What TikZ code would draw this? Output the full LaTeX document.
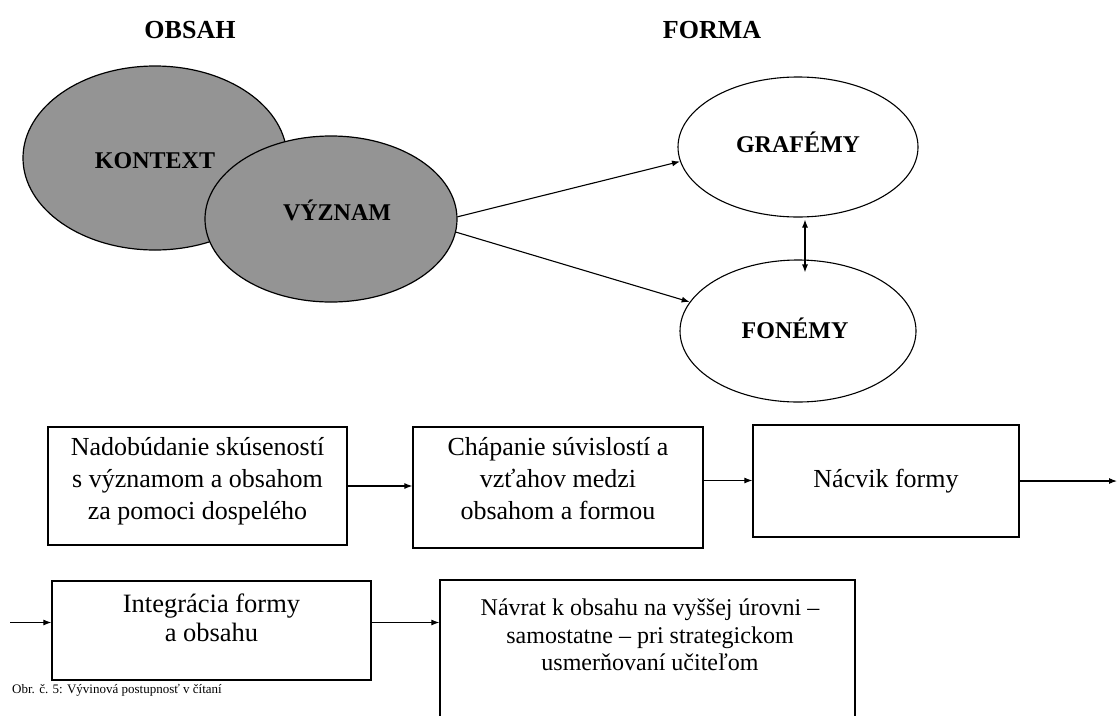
\documentclass[tikz,border=0pt]{standalone}
\usepackage{fontspec}
\setmainfont{Liberation Serif}
\usetikzlibrary{shapes.geometric,arrows.meta}
\tikzset{
  title/.style={font=\fontsize{26}{30}\selectfont\bfseries, inner sep=0pt},
  ovlabel/.style={font=\fontsize{24}{28}\selectfont\bfseries, inner sep=0pt},
  shaded/.style={ellipse, draw=black, line width=1.2pt, fill=black!42, inner sep=0pt},
  plain/.style={ellipse, draw=black, line width=1.1pt, fill=white, inner sep=0pt},
  stepbox/.style={rectangle, draw=black, line width=1.3pt, inner sep=0pt},
  boxtext/.style={align=center, font=\fontsize{26}{32}\selectfont, inner sep=0pt},
  boxtextb/.style={align=center, font=\fontsize{26.5}{29}\selectfont, inner sep=0pt},
  boxtextc/.style={align=center, font=\fontsize{24}{27.5}\selectfont, inner sep=0pt},
  arr/.style={line width=1.1pt, -{Latex[length=8pt,width=6pt]}},
  darr/.style={line width=1.1pt, {Latex[length=8pt,width=6pt]}-{Latex[length=8pt,width=6pt]}},
  caption/.style={font=\fontsize{13}{15}\selectfont, inner sep=0pt, anchor=west}
}
\begin{document}
\begin{tikzpicture}[x=1pt,y=-1pt]
\useasboundingbox (0,0) rectangle (1118,715);

% titles
\node[title] (obsah) at (190,30) {OBSAH};
\node[title] (forma) at (712,30) {FORMA};

% shaded ellipses
\node[shaded, minimum width=264pt, minimum height=184pt] (kontext) at (155,158) {};
\node[ovlabel] (kontextlbl) at (155,161) {KONTEXT};
\node[shaded, minimum width=252pt, minimum height=166pt] (vyznam) at (331,219) {};
\node[ovlabel] (vyznamlbl) at (337,210) {VÝZNAM};

% white ellipses
\node[plain, minimum width=240pt, minimum height=140pt] (grafemy) at (798,147) {};
\node[ovlabel] (grafemylbl) at (798,142) {GRAFÉMY};
\node[plain, minimum width=236pt, minimum height=142pt] (fonemy) at (798,331) {};
\node[ovlabel] (fonemylbl) at (795,328) {FONÉMY};

\draw[arr] (vyznam.1) -- (grafemy.187);
\draw[arr] (vyznam.-6) -- (fonemy.165);
\draw[darr] ([xshift=7pt,yshift=-2pt]grafemy.south) -- ([xshift=7pt,yshift=-13pt]fonemy.north);

% first row of boxes
\node[stepbox, minimum width=299pt, minimum height=118pt] (b1) at (197.5,486) {};
\node[boxtext] (b1t) at (197.5,481) {Nadobúdanie skúseností\\s významom a obsahom\\za pomoci dospelého};
\node[stepbox, minimum width=290pt, minimum height=121pt] (b2) at (558,487.5) {};
\node[boxtext] (b2t) at (558,479) {Chápanie súvislostí a\\vzťahov medzi\\obsahom a formou};
\node[stepbox, minimum width=266pt, minimum height=112pt] (b3) at (886,481) {};
\node[boxtext] (b3t) at (886,481) {Nácvik formy};
\coordinate (out3) at (1117,481);

\draw[arr] (b1.east) -- (b1.east -| b2.west);
\draw[arr] ([yshift=7pt]b2.east) -- ([yshift=7pt]b2.east -| b3.west);
\draw[arr] (b3.east) -- (out3);

% second row of boxes
\coordinate (in4) at (10,622.5);
\node[stepbox, minimum width=319pt, minimum height=99pt] (b4) at (211.5,630.5) {};
\node[boxtextb] (b4t) at (211.5,618) {Integrácia formy\\a obsahu};
\node[stepbox, minimum width=415pt, minimum height=150pt] (b5) at (647.5,655) {};
\node[boxtextc] (b5t) at (650,635) {Návrat k obsahu na vyššej úrovni –\\samostatne – pri strategickom\\usmerňovaní učiteľom};

\draw[arr] (in4) -- (in4 -| b4.west);
\draw[arr] ([yshift=8pt]b4.east) -- ([yshift=8pt]b4.east -| b5.west);

\node[caption] (cap) at (12,690) {Obr. č. 5: Vývinová postupnosť v čítaní};
\end{tikzpicture}
\end{document}
